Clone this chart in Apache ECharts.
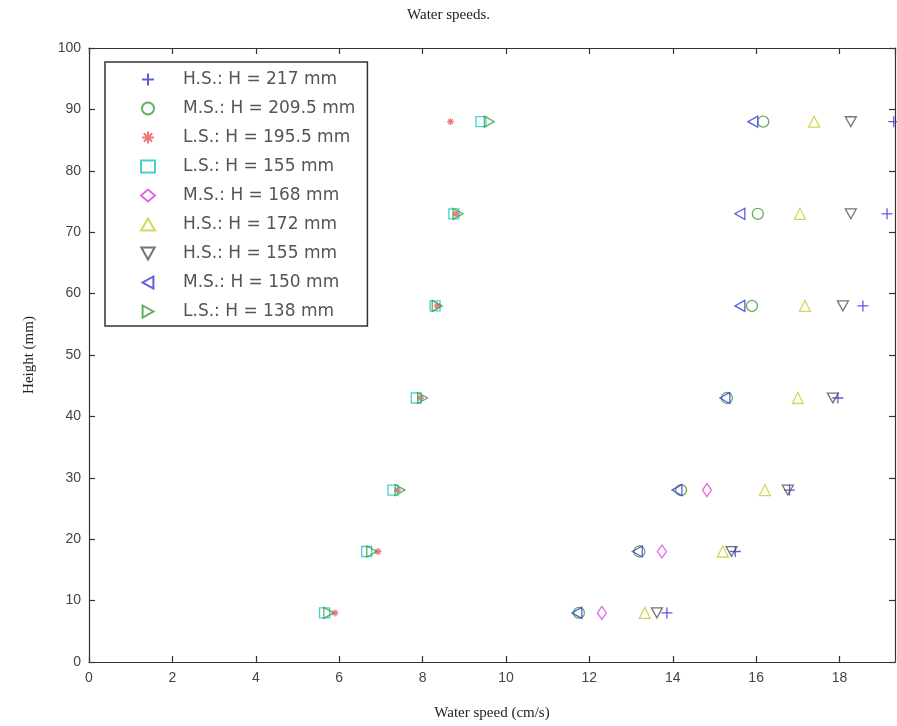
<!DOCTYPE html>
<html>
<head>
<meta charset="utf-8">
<script src="https://cdn.jsdelivr.net/npm/echarts@6/dist/echarts.min.js"></script>
<style>
  html, body { margin: 0; padding: 0; background: #fff; }
  #main { width: 897px; height: 726px; }
</style>
</head>
<body>
<div id="main"></div>
<script>
// heights (mm) of the measuring points
var heights = [8, 18, 28, 43, 58, 73, 88];
var diamondHeights = [8, 18, 28];

// water speed (cm/s) at each height, one list per run
var hs217 = [13.86, 15.5, 16.8, 17.96, 18.56, 19.14, 19.3];
var ms2095 = [11.75, 13.2, 14.2, 15.3, 15.9, 16.04, 16.17];
var ls1955 = [5.9, 6.93, 7.4, 7.95, 8.35, 8.8, 8.67];
var ls155 = [5.65, 6.66, 7.29, 7.85, 8.3, 8.75, 9.4];
var ms168 = [12.3, 13.74, 14.82];
var hs172 = [13.33, 15.2, 16.21, 17.0, 17.17, 17.05, 17.39];
var hs155 = [13.62, 15.41, 16.76, 17.84, 18.08, 18.27, 18.27];
var ms150 = [11.7, 13.15, 14.1, 15.25, 15.61, 15.61, 15.92];
var ls138 = [5.75, 6.78, 7.46, 8.0, 8.35, 8.85, 9.6];

var xTicks = [0, 2, 4, 6, 8, 10, 12, 14, 16, 18];

function pts(xs, ys) {
  return xs.map(function (x, i) { return [x, ys[i]]; });
}

var PLUS = 'path://M5,0 L5,10 M0,5 L10,5';
var STAR = 'path://M5,0 L5,10 M0,5 L10,5 M1.5,1.5 L8.5,8.5 M8.5,1.5 L1.5,8.5';
var DOWN = 'path://M0,0 L10,0 L5,9 Z';
var LEFT = 'path://M9,0 L0,5 L9,10 Z';
var RIGHT = 'path://M0,0 L9,5 L0,10 Z';

function mk(name, xs, ys, symbol, size, color) {
  return {
    name: name,
    type: 'scatter',
    data: pts(xs, ys),
    symbol: symbol,
    symbolSize: size,
    symbolKeepAspect: true,
    itemStyle: { color: 'transparent', borderColor: color, borderWidth: 1.3 },
    emphasis: { disabled: true }
  };
}

var series = [
  mk('H.S.: H = 217 mm', hs217, heights, PLUS, 11, '#3434d8'),
  mk('M.S.: H = 209.5 mm', ms2095, heights, 'circle', 11, '#3c9a3c'),
  mk('L.S.: H = 195.5 mm', ls1955, heights, STAR, 7, '#e8585c'),
  mk('L.S.: H = 155 mm', ls155, heights, 'rect', 10, '#1cc4c4'),
  mk('M.S.: H = 168 mm', ms168, diamondHeights, 'diamond', [9, 13], '#e040e0'),
  mk('H.S.: H = 172 mm', hs172, heights, 'triangle', 11, '#cccc30'),
  mk('H.S.: H = 155 mm', hs155, heights, DOWN, 11, '#505050'),
  mk('M.S.: H = 150 mm', ms150, heights, LEFT, 11, '#3434d8'),
  mk('L.S.: H = 138 mm', ls138, heights, RIGHT, 11, '#3c9a3c')
];

var chart = echarts.init(document.getElementById('main'));
var tickStyle = { color: '#333', width: 1.2 };
chart.setOption({
  backgroundColor: '#fff',
  animation: false,
  title: {
    text: 'Water speeds.',
    left: 'center',
    top: 3,
    textStyle: { fontFamily: 'Liberation Serif', fontSize: 15, fontWeight: 'normal', color: '#222' }
  },
  grid: { left: 89, right: 2, top: 48, bottom: 61 },
  legend: {
    orient: 'vertical',
    left: 105,
    top: 62,
    padding: [9, 12, 6, 35],
    itemGap: 12,
    itemWidth: 14,
    itemHeight: 12,
    backgroundColor: '#fff',
    borderColor: '#333',
    borderWidth: 1.5,
    textStyle: { fontFamily: 'DejaVu Sans', fontSize: 17, color: '#555', padding: [0, 0, 0, 23] },
    data: series.map(function (s) { return s.name; })
  },
  xAxis: [{
    type: 'value',
    min: 0,
    max: 19.33,
    interval: 2,
    name: 'Water speed (cm/s)',
    nameLocation: 'middle',
    nameGap: 44,
    nameTextStyle: { fontFamily: 'Liberation Serif', fontSize: 15, color: '#222' },
    axisLine: { show: true, onZero: false, lineStyle: tickStyle },
    axisTick: { inside: true, length: 6, lineStyle: tickStyle },
    axisLabel: {
      showMaxLabel: false, margin: 9, color: '#444', fontFamily: 'Liberation Sans', fontSize: 14,
      formatter: function (v) { return xTicks.indexOf(v) >= 0 ? String(v) : ''; }
    },
    splitLine: { show: false }
  }, {
    type: 'value',
    position: 'top',
    min: 0,
    max: 19.33,
    interval: 2,
    axisLine: { show: true, onZero: false, lineStyle: tickStyle },
    axisTick: { inside: true, length: 6, lineStyle: tickStyle },
    axisLabel: { show: false },
    splitLine: { show: false }
  }],
  yAxis: [{
    type: 'value',
    min: 0,
    max: 100,
    interval: 10,
    name: 'Height (mm)',
    nameLocation: 'middle',
    nameGap: 52,
    nameRotate: 90,
    nameTextStyle: { fontFamily: 'Liberation Serif', fontSize: 15, color: '#222' },
    axisLine: { show: true, onZero: false, lineStyle: tickStyle },
    axisTick: { inside: true, length: 6, lineStyle: tickStyle },
    axisLabel: { margin: 8, color: '#444', fontFamily: 'Liberation Sans', fontSize: 14 },
    splitLine: { show: false }
  }, {
    type: 'value',
    position: 'right',
    min: 0,
    max: 100,
    interval: 10,
    axisLine: { show: true, onZero: false, lineStyle: tickStyle },
    axisTick: { inside: true, length: 6, lineStyle: tickStyle },
    axisLabel: { show: false },
    splitLine: { show: false }
  }],
  series: series
});
</script>
</body>
</html>
